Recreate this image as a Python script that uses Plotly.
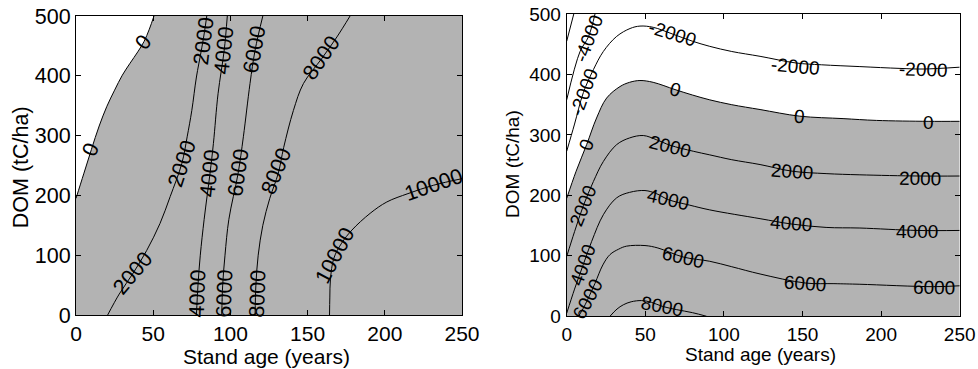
import plotly.graph_objects as go

# ---------------- data ----------------
AGE_TICKS = [0, 50, 100, 150, 200, 250]
DOM_TICKS = [0, 100, 200, 300, 400, 500]
AGE_RANGE = [0, 250]
DOM_RANGE = [0, 500]

# Left panel contour lines (stand age, DOM)
L0_AGE = [0, 5, 10, 15, 20, 25, 30, 35, 40, 44, 47.5, 50.5]
L0_DOM = [195, 236, 277, 316, 349, 376, 401, 421, 440, 457, 478, 500]
L2000_AGE = [20.5, 28, 37, 45.8, 54.4, 61, 68.5, 72, 75, 78, 81, 83, 84.7]
L2000_DOM = [0, 35, 70, 108, 153, 198, 253, 298, 342, 398, 440, 470, 500]
L4000_AGE = [78, 79, 80.5, 83, 86.8, 89, 92, 96, 98]
L4000_DOM = [0, 50, 100, 160, 237, 287, 370, 443, 500]
L6000_AGE = [94.4, 95, 96.5, 99, 105, 108.4, 112.7, 116, 121]
L6000_DOM = [0, 50, 100, 160, 237, 298, 387, 443, 500]
L8000_AGE = [116, 116.5, 118, 121, 125.5, 131, 134.5, 140.8, 147.3, 159.2, 169, 177.5]
L8000_DOM = [0, 50, 100, 150, 195, 237, 280, 342, 387, 429, 465, 500]
L10000_AGE = [164.2, 164.4, 164.8, 167, 172, 178.7, 190.5, 201.3, 215, 231.6, 250]
L10000_DOM = [0, 30, 60, 95, 120, 142, 170, 189, 203, 217, 228]

LEFT_LABEL_TEXT = ["0", "0", "2000", "2000", "2000", "4000", "4000", "4000",
                   "6000", "6000", "6000", "8000", "8000", "8000", "10000", "10000"]
LEFT_LABEL_AGE = [9.5, 43.6, 37, 68.5, 82.5, 79, 86.8, 96,
                  96.5, 105.2, 116, 118, 130, 159, 168, 231.6]
LEFT_LABEL_DOM = [276, 457, 70, 253, 459, 36, 237, 443,
                  36, 239, 444, 36, 240, 429, 100, 217]
LEFT_LABEL_ANGLE = [-68, -52, -50, -72, -83, -88, -84, -84,
                    -88, -82, -80, -88, -68, -55, -62, -19]

# Right panel contour lines (stand age, DOM)
RM6000_AGE = [0, 4.5]
RM6000_DOM = [455, 500]
RM4000_AGE = [0, 8.5, 13.8, 18]
RM4000_DOM = [358, 438, 462, 500]
RM2000_AGE = [0, 5, 10.6, 17, 23.3, 31.8, 40.3, 46.6, 55, 67.2, 80, 91, 105, 123,
              145.8, 162, 186.5, 212, 226.7, 250]
RM2000_DOM = [273, 318, 370, 408, 438, 463, 476, 480, 478, 467, 455, 446.5, 438, 430,
              419, 416, 413, 410, 409, 412]
R0_AGE = [0, 6, 12.7, 19, 25.4, 33.9, 40, 46.6, 55, 68.9, 80, 91, 105, 123,
          148.3, 175.8, 197, 229.9, 250]
R0_DOM = [195, 240, 284, 328, 361, 380, 387, 390, 387, 375, 366, 358, 350, 342,
          331, 327, 324, 322.5, 322.5]
R2000_AGE = [0, 5, 10.6, 17, 23.3, 31.8, 40, 48.7, 57.2, 65.7, 80.5, 91, 105, 123,
             143.4, 165, 186.5, 224.6, 250]
R2000_DOM = [99, 140, 183, 223, 256, 284, 295, 299, 292, 283, 273, 267, 259, 251,
             240, 236, 234, 232, 232]
R4000_AGE = [0, 5, 10.6, 15.9, 23.3, 31.8, 40, 49.8, 57, 64.6, 78, 91, 123,
             142.8, 165, 186.5, 222.9, 250]
R4000_DOM = [5, 45, 86, 124, 168, 196, 205, 208, 203, 193, 184, 176, 161.5,
             152.7, 147, 146, 142, 142]
R6000_AGE = [7.5, 10.5, 13.3, 18, 23, 27.5, 33, 38, 49.8, 58, 74.2, 91, 105, 123,
             151.9, 170, 186.5, 233.5, 250]
R6000_DOM = [0, 13, 27.6, 54.6, 85, 102, 111, 116, 117, 113, 98, 91, 82, 70,
             55, 54, 53, 49, 50.5]
R8000_AGE = [27.5, 32, 36, 41, 47.7, 54, 60.8, 70, 80, 89]
R8000_DOM = [0, 12, 19, 24, 26, 23, 16.5, 11, 6, 0]

RIGHT_LABEL_TEXT = ["-4000", "-2000", "-2000", "-2000", "-2000",
                    "0", "0", "0", "0",
                    "2000", "2000", "2000", "2000",
                    "4000", "4000", "4000", "4000",
                    "6000", "6000", "6000", "6000", "8000"]
RIGHT_LABEL_AGE = [13.8, 11, 67.2, 145.8, 226.7,
                   12.7, 68.9, 148.3, 229.9,
                   10.6, 65.7, 143.4, 224.6,
                   10.6, 64.6, 142.8, 222.9,
                   13.3, 74.2, 151.9, 233.5, 60.8]
RIGHT_LABEL_DOM = [460, 372, 467, 413, 408,
                   284, 375, 331, 320,
                   183, 281, 240, 228,
                   85, 193, 152.7, 140.6,
                   27.6, 97.6, 55, 48, 16.5]
RIGHT_LABEL_ANGLE = [-69, -70, 17, 5, 2,
                     -70, 15, 5, 0,
                     -68, 14, 4, 1,
                     -70, 13, 4, 0,
                     -62, 13, 4, 1, 11]

# ---------------- styling ----------------
FONT = "Liberation Sans, Arial, Helvetica, sans-serif"
GRAY = "#b3b3b3"
LEFT_FS = 21.5
RIGHT_FS = 19

fig = go.Figure()

# Left panel: gray background of the plot area, white where value < 0
fig.add_shape(type="rect", xref="x", yref="y",
              x0=AGE_RANGE[0], x1=AGE_RANGE[1], y0=DOM_RANGE[0], y1=DOM_RANGE[1],
              fillcolor=GRAY, line=dict(width=0), layer="below")
fig.add_trace(go.Scatter(x=L0_AGE, y=L0_DOM, mode="lines", xaxis="x", yaxis="y",
                         line=dict(color="black", width=1, shape="spline"),
                         fill="tozerox", fillcolor="white", hoverinfo="skip"))
for ax_, dm_ in [(L2000_AGE, L2000_DOM), (L4000_AGE, L4000_DOM), (L6000_AGE, L6000_DOM),
                 (L8000_AGE, L8000_DOM), (L10000_AGE, L10000_DOM)]:
    fig.add_trace(go.Scatter(x=ax_, y=dm_, mode="lines", xaxis="x", yaxis="y",
                             line=dict(color="black", width=1, shape="spline"),
                             hoverinfo="skip"))

# Right panel: gray below the zero contour
fig.add_trace(go.Scatter(x=R0_AGE, y=R0_DOM, mode="lines", xaxis="x2", yaxis="y2",
                         line=dict(color="black", width=1, shape="spline"),
                         fill="tozeroy", fillcolor=GRAY, hoverinfo="skip"))
for ax_, dm_ in [(RM6000_AGE, RM6000_DOM), (RM4000_AGE, RM4000_DOM), (RM2000_AGE, RM2000_DOM),
                 (R2000_AGE, R2000_DOM), (R4000_AGE, R4000_DOM), (R6000_AGE, R6000_DOM),
                 (R8000_AGE, R8000_DOM)]:
    fig.add_trace(go.Scatter(x=ax_, y=dm_, mode="lines", xaxis="x2", yaxis="y2",
                             line=dict(color="black", width=1, shape="spline"),
                             hoverinfo="skip"))

annotations = []
for t, a, d, ang in zip(LEFT_LABEL_TEXT, LEFT_LABEL_AGE, LEFT_LABEL_DOM, LEFT_LABEL_ANGLE):
    annotations.append(dict(x=a, y=d, xref="x", yref="y", text=t, showarrow=False,
                            textangle=ang, font=dict(family=FONT, size=LEFT_FS, color="black")))
for t, a, d, ang in zip(RIGHT_LABEL_TEXT, RIGHT_LABEL_AGE, RIGHT_LABEL_DOM, RIGHT_LABEL_ANGLE):
    annotations.append(dict(x=a, y=d, xref="x2", yref="y2", text=t, showarrow=False,
                            textangle=ang, font=dict(family=FONT, size=RIGHT_FS, color="black")))

# axis titles
annotations += [
    dict(text="Stand age (years)", xref="paper", yref="paper", x=0.2730, y=0.0,
         showarrow=False, xanchor="center", yanchor="bottom", borderpad=0,
         font=dict(family=FONT, size=21, color="black")),
    dict(text="DOM (tC/ha)", xref="paper", yref="paper", x=0.0215, y=0.547,
         showarrow=False, textangle=-90, xanchor="center", yanchor="middle",
         font=dict(family=FONT, size=LEFT_FS, color="black")),
    dict(text="Stand age (years)", xref="paper", yref="paper", x=0.778, y=(369 - 354) / 369,
         showarrow=False, xanchor="center", yanchor="middle", borderpad=0,
         font=dict(family=FONT, size=RIGHT_FS, color="black")),
    dict(text="DOM (tC/ha)", xref="paper", yref="paper", x=0.5245, y=0.5556,
         showarrow=False, textangle=-90, xanchor="center", yanchor="middle",
         font=dict(family=FONT, size=RIGHT_FS, color="black")),
]

def axis(domain, ticks, rng, fs, anchor, standoff):
    return dict(domain=domain, range=rng, tickvals=ticks, ticks="inside", ticklen=5,
                tickcolor="black", showline=True, linecolor="black", linewidth=1,
                mirror="ticks", showgrid=False, zeroline=False, anchor=anchor,
                automargin=False, ticklabelstandoff=standoff,
                tickfont=dict(family=FONT, size=fs, color="black"), layer="above traces")

fig.update_layout(
    template="none",
    width=978, height=369,
    margin=dict(l=0, r=0, t=0, b=0, pad=0),
    paper_bgcolor="white", plot_bgcolor="white",
    showlegend=False,
    xaxis=axis([76 / 978, 462 / 978], AGE_TICKS, AGE_RANGE, 21, "y", 0),
    yaxis=axis([(369 - 315) / 369, (369 - 16) / 369], DOM_TICKS, DOM_RANGE, LEFT_FS, "x", 0),
    xaxis2=axis([566.7 / 978, 959.7 / 978], AGE_TICKS, AGE_RANGE, RIGHT_FS, "y2", 1),
    yaxis2=axis([(369 - 316.3) / 369, (369 - 14) / 369], DOM_TICKS, DOM_RANGE, RIGHT_FS, "x2", 1),
    annotations=annotations,
)

fig.write_html("out.html")
